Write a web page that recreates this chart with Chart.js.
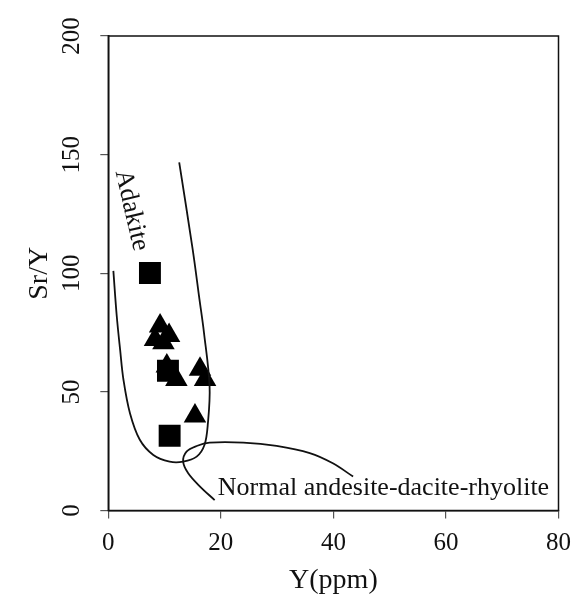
<!DOCTYPE html>
<html>
<head>
<meta charset="utf-8">
<script src="https://cdn.jsdelivr.net/npm/chart.js@4/dist/chart.umd.min.js"></script>
<style>
  html, body { margin: 0; padding: 0; background: #fff; }
  canvas { display: block; }
</style>
</head>
<body>
<canvas id="c" width="574" height="597"></canvas>
<script>
// ---- Data ----
const xTickValues = [0, 20, 40, 60, 80];
const yTickValues = [0, 50, 100, 150, 200];

// Samples (Y ppm, Sr/Y)
const squareY   = [7.4, 10.6, 10.9];
const squareSrY = [100.1, 58.9, 31.5];

const triangleY   = [8.3, 9.8, 9.2, 10.8, 10.4, 12.1, 16.3, 17.2, 15.4];
const triangleSrY = [72.1, 70.7, 77.8, 73.8, 60.9, 55.2, 59.5, 55.2, 39.8];

// Adakite field boundary
const adakiteY   = [0.9, 1.5, 2.1, 2.7, 3.85, 5.6, 8.0, 10.9, 13.3, 15.7, 17.1, 17.7, 18.0, 17.0, 16.2, 15.0, 12.6];
const adakiteSrY = [101, 82, 67.8, 55, 41, 29.8, 23.4, 20.6, 20.6, 22.7, 27.7, 36.8, 52.3, 75, 89, 110, 146.7];

// Normal andesite-dacite-rhyolite field boundary
const normalY   = [18.9, 16.3, 14.2, 13.3, 13.9, 15.7, 18.0, 24.0, 29.9, 35.8, 39.9, 43.5];
const normalSrY = [4.4, 10.1, 15.7, 20.6, 24.8, 27.2, 28.6, 28.6, 27.2, 24.2, 19.9, 14.3];

// Field labels (text, anchor in data units)
const fieldLabels = [
  { text: 'Adakite', x: 4.1, y: 126.5, angle: 77, align: 'center', baseline: 'middle' },
  { text: 'Normal andesite-dacite-rhyolite', x: 48.9, y: 6.5, angle: 0, align: 'center', baseline: 'alphabetic' }
];

const xTitle = 'Y(ppm)';
const yTitle = 'Sr/Y';

// ---- Build chart ----
const toPts = (xs, ys) => xs.map((v, i) => ({ x: v, y: ys[i] }));
const FONT = "'Liberation Serif', 'Times New Roman', serif";
const INK = '#111';

const framePlugin = {
  id: 'frame',
  afterDatasetsDraw(chart) {
    const { ctx, chartArea: a } = chart;
    ctx.save();
    ctx.strokeStyle = INK;
    ctx.lineWidth = 1.5;
    ctx.strokeRect(a.left, a.top, a.right - a.left, a.bottom - a.top);
    ctx.restore();
  }
};

const labelPlugin = {
  id: 'fieldLabels',
  afterDatasetsDraw(chart) {
    const { ctx, scales } = chart;
    ctx.save();
    ctx.fillStyle = INK;
    ctx.font = "26px " + FONT;
    fieldLabels.forEach(l => {
      const px = scales.x.getPixelForValue(l.x);
      const py = scales.y.getPixelForValue(l.y);
      ctx.save();
      ctx.translate(px, py);
      ctx.rotate(l.angle * Math.PI / 180);
      ctx.textAlign = l.align;
      ctx.textBaseline = l.baseline;
      ctx.fillText(l.text, 0, 0);
      ctx.restore();
    });
    ctx.restore();
  }
};

new Chart(document.getElementById('c'), {
  type: 'scatter',
  data: {
    datasets: [
      {
        label: 'Adakite field',
        data: toPts(adakiteY, adakiteSrY),
        showLine: true,
        borderColor: INK,
        borderWidth: 1.8,
        pointRadius: 0,
        tension: 0.35,
        fill: false
      },
      {
        label: 'Normal field',
        data: toPts(normalY, normalSrY),
        showLine: true,
        borderColor: INK,
        borderWidth: 1.8,
        pointRadius: 0,
        tension: 0.35,
        fill: false
      },
      {
        label: 'Triangles',
        data: toPts(triangleY, triangleSrY),
        pointStyle: 'triangle',
        pointRadius: 13,
        backgroundColor: '#000',
        borderColor: '#000',
        borderWidth: 0
      },
      {
        label: 'Squares',
        data: toPts(squareY, squareSrY),
        pointStyle: 'rect',
        pointRadius: 15.5,
        backgroundColor: '#000',
        borderColor: '#000',
        borderWidth: 0
      }
    ]
  },
  options: {
    responsive: false,
    devicePixelRatio: 1,
    animation: false,
    layout: { padding: { left: 0, right: 14.7, top: 36, bottom: 0 } },
    plugins: {
      legend: { display: false },
      tooltip: { enabled: false }
    },
    scales: {
      x: {
        type: 'linear',
        min: 0, max: 80,
        afterBuildTicks: s => { s.ticks = xTickValues.map(v => ({ value: v })); },
        afterFit: s => { s.height = 86.5; s.paddingLeft = 0; s.paddingRight = 0; },
        ticks: {
          autoSkip: false,
          padding: 10,
          color: INK,
          font: { family: FONT, size: 25 },
          maxRotation: 0
        },
        grid: { drawOnChartArea: false, drawTicks: true, tickLength: 8, color: '#555', lineWidth: 1.2 },
        border: { display: true, color: INK, width: 1.5 },
        title: {
          display: true,
          text: xTitle,
          color: INK,
          font: { family: FONT, size: 28 },
          padding: { top: 0, bottom: 0 }
        }
      },
      y: {
        type: 'linear',
        min: 0, max: 200,
        afterBuildTicks: s => { s.ticks = yTickValues.map(v => ({ value: v })); },
        afterFit: s => { s.width = 108.3; s.paddingTop = 0; s.paddingBottom = 0; },
        ticks: {
          autoSkip: false,
          minRotation: 90,
          maxRotation: 90,
          crossAlign: 'center',
          padding: 9,
          color: INK,
          font: { family: FONT, size: 25 }
        },
        grid: { drawOnChartArea: false, drawTicks: true, tickLength: 8, color: '#555', lineWidth: 1.2 },
        border: { display: true, color: INK, width: 1.5 },
        title: {
          display: true,
          text: yTitle,
          color: INK,
          font: { family: FONT, size: 28 },
          padding: { top: 23, bottom: 0 }
        }
      }
    }
  },
  plugins: [framePlugin, labelPlugin]
});
</script>
</body>
</html>
